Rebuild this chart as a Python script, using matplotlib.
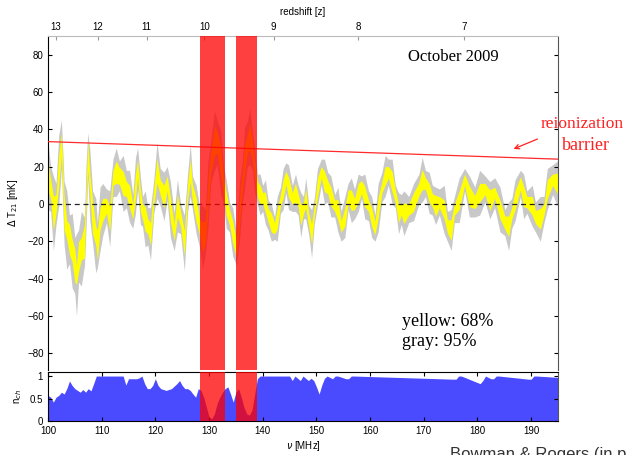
import matplotlib
matplotlib.use("Agg")
import matplotlib.pyplot as plt
import numpy as np

# --- brightness temperature residuals (center of the bands)
freq = [
    100.0, 100.5, 101.0, 101.5, 102.0, 102.5, 103.0, 103.5, 104.0, 104.5, 105.0,
    105.3, 105.7, 106.2, 106.8, 107.1, 107.4, 107.8, 108.3, 108.9, 109.2, 109.7,
    110.2, 110.9, 111.5, 112.1, 112.7, 113.3, 114.0, 114.6, 115.2, 115.8, 116.3,
    116.7, 117.2, 117.6, 118.1, 118.6, 119.1, 119.7, 120.3, 120.9, 121.6, 122.2,
    122.8, 123.5, 124.1, 124.7, 125.4, 126.0, 126.5, 126.9, 127.6, 128.2,
    128.8, 129.3, 129.8, 130.3, 131.0, 131.5, 132.2, 132.7, 133.2, 133.8, 134.4,
    135.1, 135.7, 136.2, 136.6, 137.1, 137.6, 138.1, 138.5, 139.0,
    139.5, 140.0, 140.5, 141.0, 141.6, 142.2, 142.7, 143.3, 143.8, 144.3,
    144.8, 145.5, 146.1, 146.6, 147.1, 147.6, 148.0, 148.6, 149.1, 149.6,
    150.2, 150.9, 151.5, 152.1, 152.7, 153.4, 154.0, 154.6, 155.3, 155.9,
    156.5, 157.1, 157.8, 158.4, 159.0, 159.7, 160.3, 160.9, 161.5, 162.2,
    162.8, 163.4, 164.1, 164.7, 165.3, 165.8, 166.3, 167.2, 168.1, 169.1,
    169.7, 170.3, 171.0, 171.6, 172.2, 172.9, 173.8, 174.4, 175.1, 175.7,
    176.6, 177.6, 178.5, 179.5, 180.4, 181.4, 182.3, 183.2, 184.2, 185.1,
    185.8, 186.4, 187.0, 188.0, 188.6, 189.2, 190.2, 190.8, 191.7, 192.4,
    193.0, 194.0, 194.9, 195.0,
]
t_mid = [
    15, 8, -5, 0, 18, 32, -5, -14, -19, -25, -33,
    -38, -28, -24, -20, 5, 26, 10, -7, -17, -22, -8,
    -3, -1, -8, 14, 17, 15, 11, 8, 4, -4, 10,
    19, 2, -4, -8, -12, -16, 4, 18, 9, 4, 11,
    -3, -15, -1, -8, -21, 6, 18, 6, -3, -12,
    -18, -15, 5, 22, 34, 33, 22, 10, 0, -7, -15,
    -24, -3, 12, 24, 32, 36, 28, 18, 8,
    5, 3, 1, -6, -10, -13, -8, 2, 8, 14,
    9, 3, 6, 2, -6, -2, 3, -9, -16, -4,
    9, 17, 12, 9, 4, -1, -3, -12, -7, 4,
    2, 0, 6, 9, 4, -1, -7, -13, -2, 9,
    15, 17, 12, 4, -5, -3, -5, -3, 1, 8,
    13, 11, 6, 2, -1, 1, -3, -12, -14, -3,
    2, 13, 4, 1, 6, 8, 2, 6, -3, -10,
    -12, -5, 2, 11, 4, 1, -1, -7, -8, -3,
    8, 13, 11, 10,
]
# half widths of the 68% (yellow) and 95% (gray) bands
yellow_hw = [
    8, 5, 9, 5, 8, 6, 9, 5, 8, 6, 9,
    5, 8, 6, 9, 5, 8, 6, 9, 5, 8, 6,
    6, 4, 6.5, 4, 6, 4.5, 6.5, 4, 6, 4, 6.5,
    4.5, 6, 4, 6.5, 4, 6, 4.5, 6.5, 4, 6, 4,
    6.5, 4.5, 6, 4, 6.5, 4, 6, 4.5, 6.5, 4,
    8, 6, 8, 5, 8, 5.5, 8, 5, 6, 4, 6,
    4.5, 7, 5, 8, 5, 7, 5, 5, 4,
    5, 3, 5.5, 3.5, 5, 3, 5.5, 3, 5, 3.5,
    5.5, 3, 5, 3.5, 5.5, 3, 5, 3.5, 5.5, 3,
    5, 3, 5.5, 3.5, 5, 3, 5.5, 3, 5, 3.5,
    5.5, 3, 5, 3.5, 5.5, 3, 5, 3.5, 5.5, 3,
    5, 3, 5.5, 3.5, 5, 3, 5.5, 3, 5, 3.5,
    5.5, 3, 5, 3.5, 5.5, 3, 5, 3.5, 5.5, 3,
    5, 3, 5.5, 3.5, 5, 3, 5.5, 3, 5, 3.5,
    5.5, 3, 5, 3.5, 5.5, 3, 5, 3.5, 5.5, 3,
    5, 3, 5.5, 3.5,
]
gray_hw = [
    18, 12, 20, 11, 19, 13, 17, 21, 13, 20, 15,
    22, 14, 20, 13, 17, 12, 19, 14, 20, 12, 17,
    14, 9, 15, 10, 13, 8, 15, 10, 14, 9, 15,
    11, 13, 8, 15, 10, 14, 9, 15, 10, 13, 9,
    15, 10, 14, 8, 15, 10, 14, 9, 13, 11,
    17, 12, 18, 11, 16, 12, 17, 10, 13, 8, 13,
    9, 16, 11, 17, 12, 15, 10, 12, 8,
    11, 7, 12, 8, 10, 6, 12, 7, 11, 8,
    12, 7, 10, 8, 12, 6, 11, 8, 13, 7,
    10, 7, 12, 8, 11, 6, 12, 8, 11, 7,
    12, 8, 10, 6, 12, 8, 11, 7, 13, 8,
    11, 7, 12, 6, 11, 8, 12, 7, 10, 8,
    12, 7, 11, 8, 10, 7, 13, 8, 11, 7,
    12, 6, 11, 8, 12, 7, 10, 8, 12, 7,
    13, 8, 11, 7, 12, 6, 11, 8, 12, 7,
    11, 8, 12, 7,
]

# reionization barrier
barrier_freq = [100, 195]
barrier_t = [33.4, 24.0]

# RFI-flagged frequency windows
flag_bands = [(128.3, 133.0), (135.1, 138.9)]

# fraction of channels kept
nch_freq = [
    100, 100.5, 101, 101.5, 102, 102.5, 103, 103.5, 104, 104.5, 105, 105.5,
    106, 106.5, 107, 107.5, 108, 108.5, 109, 109.5, 114, 114.5, 115, 116.5,
    117, 117.5, 118, 118.5, 119, 119.5, 120, 120.5, 121, 122, 123, 124,
    124.5, 125, 125.5, 126, 126.5, 127, 127.5, 128, 128.5, 129, 129.5, 130,
    130.5, 131, 131.5, 132, 132.5, 133, 133.5, 134, 134.5, 135, 135.5, 136,
    136.5, 137, 137.5, 138, 138.5, 139, 139.5, 145, 145.5, 146, 147, 147.5,
    148.5, 149, 149.5, 150, 150.5, 151, 151.5, 152, 153, 153.5, 154, 155.5,
    156, 156.5, 157, 175.5, 176, 176.5, 177, 180.5, 181, 181.5, 182.5, 183,
    183.5, 184, 189.5, 190, 190.5, 191, 195,
]
nch = [
    0.57, 0.53, 0.42, 0.53, 0.57, 0.64, 0.60, 0.72, 0.89, 0.79, 0.72, 0.68,
    0.64, 0.70, 0.64, 0.72, 0.67, 0.83, 1.0, 1.0, 1.0, 0.80, 0.94, 0.94,
    0.96, 1.0, 0.83, 0.72, 0.72, 0.79, 0.94, 0.79, 0.72, 0.68, 0.72, 0.83,
    0.90, 0.79, 0.72, 0.72, 0.68, 0.60, 0.53, 0.72, 0.68, 0.53, 0.31, 0.09,
    0.05, 0.16, 0.39, 0.53, 0.64, 0.72, 0.76, 0.60, 0.42, 0.64, 0.72, 0.53,
    0.31, 0.16, 0.13, 0.24, 0.60, 0.94, 1.0, 1.0, 0.90, 1.0, 0.90, 1.0,
    0.90, 0.95, 0.90, 0.76, 0.60, 0.80, 0.95, 1.0, 0.94, 1.0, 1.0, 0.94,
    0.94, 1.0, 1.0, 0.93, 0.93, 1.0, 1.0, 0.83, 0.90, 1.0, 0.94, 0.94,
    1.0, 1.0, 0.93, 0.93, 1.0, 1.0, 0.97,
]

z_ticks = [13, 12, 11, 10, 9, 8, 7]

f = np.array(freq)
t = np.array(t_mid)
yh = np.array(yellow_hw)
gh = np.array(gray_hw)

plt.rcParams['font.family'] = ['Liberation Sans', 'DejaVu Sans']
plt.rcParams['font.size'] = 7

W, H = 627, 455
fig = plt.figure(figsize=(W / 100, H / 100), dpi=100)

def fx(px):
    return px / W

def fy(py):
    return 1 - py / H

ax = fig.add_axes([fx(48), fy(370), fx(558) - fx(48), fy(36) - fy(370)])
ax2 = fig.add_axes([fx(48), fy(421), fx(558) - fx(48), fy(372) - fy(421)])

# top panel
ax.fill_between(f, t - gh, t + gh, color='#c8c8c8', lw=0, zorder=1)
ax.fill_between(f, t - yh, t + yh, color='#ffff00', lw=0, zorder=2)
ax.axhline(0, color='#222222', ls='--', lw=0.9, dashes=(4, 3), zorder=3)
ax.plot(barrier_freq, barrier_t, color='#ff2a2a', lw=0.9, zorder=3)
for lo, hi in flag_bands:
    ax.axvspan(lo, hi, color='red', alpha=0.75, lw=0, zorder=5)
ax.set_xlim(100, 195)
ax.set_ylim(-89, 90)
ax.set_yticks(range(-80, 81, 20))
ax.tick_params(axis='y', direction='in', length=3, left=True, right=True,
               labelsize=7, pad=3)
ax.xaxis.tick_top()
ax.set_xticks([1420.4 / (1 + z) for z in z_ticks])
ax.set_xticklabels([str(z) for z in z_ticks])
ax.tick_params(axis='x', direction='in', length=3, top=True, bottom=False,
               labelsize=7, pad=3, color='#999999')
ax.xaxis.set_label_position('top')
ax.set_xlabel('redshift [z]', fontsize=7, labelpad=5)
ax.set_ylabel(r'$\Delta$ T$_{21}$ [mK]', fontsize=7, labelpad=5)
ax.spines['top'].set_color('#bbbbbb')
ax.spines['right'].set_color('#555555')
ax.spines['bottom'].set_visible(False)

# bottom panel
ax2.fill_between(nch_freq, 0, nch, color='#4a4aff', lw=0, zorder=1)
for lo, hi in flag_bands:
    ax2.axvspan(lo, hi, color='red', alpha=0.75, lw=0, zorder=5)
ax2.set_xlim(100, 195)
ax2.set_ylim(0, 1.09)
ax2.set_yticks([0, 0.5, 1])
ax2.set_yticklabels(['0', '0.5', '1'])
ax2.set_xticks(range(100, 191, 10))
ax2.tick_params(direction='in', length=3, top=True, right=True, labelsize=7)
ax2.set_xlabel(r'$\nu$ [MHz]', fontsize=7, labelpad=2)
ax2.set_ylabel(r'n$_{ch}$', fontsize=7, labelpad=4)
ax2.spines['right'].set_color('#555555')

# annotations
serif = ['Liberation Serif', 'DejaVu Serif']
fig.text(fx(453), fy(57), 'October 2009', family=serif, fontsize=12,
         ha='center', va='center')
fig.text(fx(402), fy(322), 'yellow: 68%', family=serif, fontsize=13,
         ha='left', va='center')
fig.text(fx(402), fy(342), 'gray: 95%', family=serif, fontsize=13,
         ha='left', va='center')
fig.text(fx(541), fy(124), 'reionization', family=serif, fontsize=12.5,
         color='#ff2020', ha='left', va='center')
fig.text(fx(562), fy(145), 'barrier', family=serif, fontsize=13,
         color='#ff2020', ha='left', va='center')
fig.patches.append(matplotlib.patches.FancyArrowPatch(
    (fx(540), fy(138)), (fx(511), fy(150)), transform=fig.transFigure,
    arrowstyle='->', mutation_scale=8, color='#ff2020', lw=0.9))
fig.text(fx(450), fy(447), 'Bowman & Rogers (in prep)', fontsize=12,
         color='#333333', ha='left', va='top')

fig.savefig('out.png', dpi=100)
